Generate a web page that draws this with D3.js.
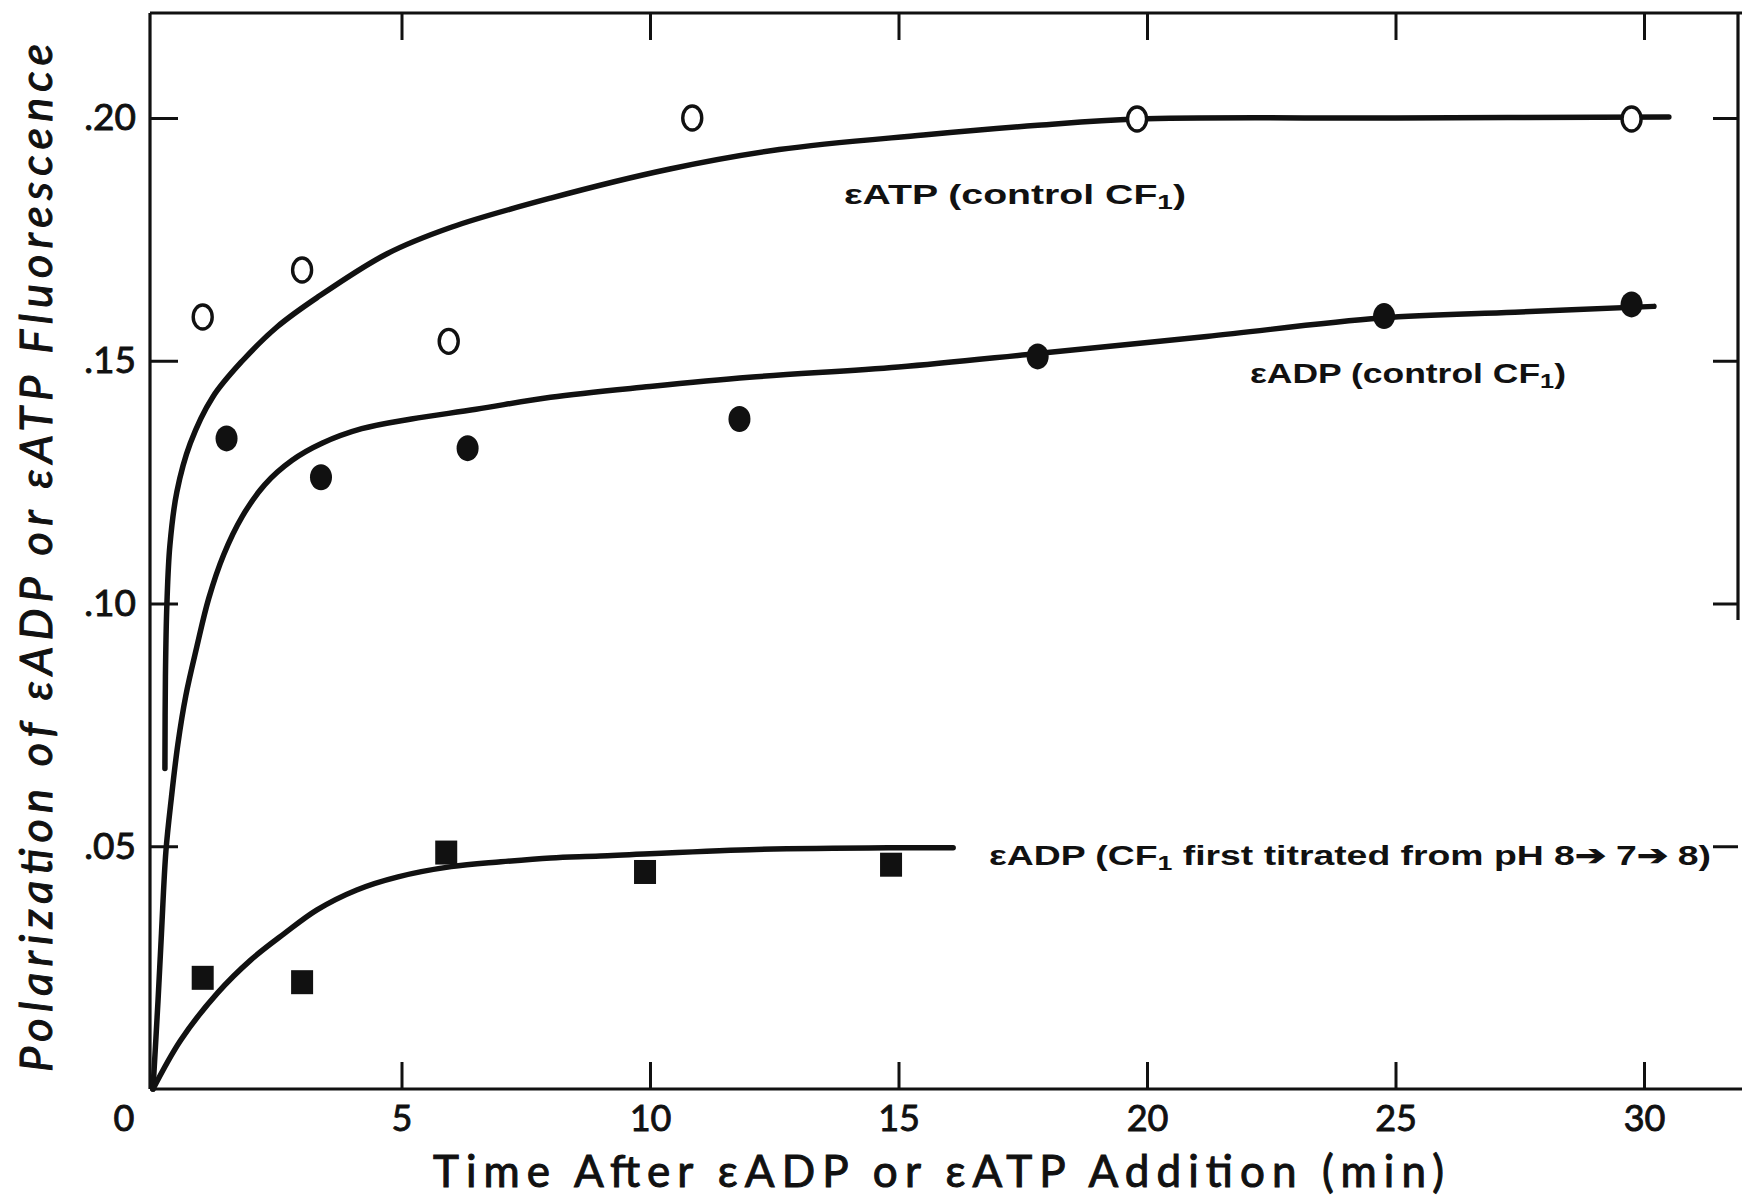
<!DOCTYPE html>
<html>
<head>
<meta charset="utf-8">
<script src="https://cdn.jsdelivr.net/npm/d3@7"></script>
<style>
  html, body { margin: 0; padding: 0; background: #fff; }
  svg { display: block; }
</style>
</head>
<body>
<svg id="chart" width="1742" height="1199"></svg>
<script>
// ---------- data ----------
const xTicks = [0, 5, 10, 15, 20, 25, 30];
const xTickLabels = ["0", "5", "10", "15", "20", "25", "30"];
const yTicks = [0.05, 0.10, 0.15, 0.20];
const yTickLabels = [".05", ".10", ".15", ".20"];

// eATP (control CF1) — open circles
const atpTime = [1.0, 3.0, 5.95, 10.85, 19.8, 29.75];
const atpPol  = [0.159, 0.1687, 0.154, 0.200, 0.1998, 0.1998];
// eADP (control CF1) — filled circles
const adpTime = [1.48, 3.38, 6.33, 11.8, 17.8, 24.77, 29.75];
const adpPol  = [0.134, 0.126, 0.132, 0.138, 0.1509, 0.1592, 0.1616];
// eADP (CF1 first titrated pH 8->7->8) — filled squares
const titTime = [1.0, 3.0, 5.9, 9.9, 14.85];
const titPol  = [0.0229, 0.022, 0.0487, 0.0447, 0.0462];

// hand-drawn fitted curves, sampled along the drawn lines
const atpCurveT = [0.24, 0.25, 0.28, 0.34, 0.48, 0.75, 1.2, 1.8, 2.5, 3.3, 4.7, 6.0, 8.0, 10.4, 12.6, 15.5, 17.8, 19.8, 25.0, 30.5];
const atpCurveP = [0.066, 0.085, 0.100, 0.112, 0.123, 0.133, 0.1425, 0.150, 0.157, 0.163, 0.172, 0.1775, 0.1835, 0.1895, 0.1935, 0.1965, 0.1985, 0.1998, 0.2000, 0.2002];
const adpCurveT = [0, 0.1, 0.17, 0.26, 0.37, 0.5, 0.66, 0.88, 1.12, 1.42, 1.8, 2.25, 2.8, 3.4, 4.2, 5.2, 6.5, 8.0, 10.0, 12.0, 15.0, 17.8, 21.2, 24.7, 27.4, 30.2];
const adpCurveP = [0, 0.018, 0.032, 0.049, 0.060, 0.071, 0.081, 0.091, 0.101, 0.110, 0.118, 0.1245, 0.1295, 0.133, 0.136, 0.138, 0.140, 0.1425, 0.1447, 0.1466, 0.1487, 0.1515, 0.155, 0.1588, 0.160, 0.1612];
const titCurveT = [0, 0.56, 1.3, 1.97, 2.64, 3.3, 4.1, 4.93, 6.0, 7.0, 8.0, 9.0, 12.0, 14.9, 16.1];
const titCurveP = [0, 0.0101, 0.0198, 0.0266, 0.032, 0.0369, 0.041, 0.0437, 0.0458, 0.0468, 0.0476, 0.0480, 0.0493, 0.0497, 0.0497];

const labelATP = "\u03B5ATP  (control  CF";
const labelADP = "\u03B5ADP  (control  CF";
const labelTit1 = "\u03B5ADP  (CF";
const labelTit2 = "  first titrated from pH 8\u2794 7\u2794 8)";
const xTitle = "Time  After  \u03B5ADP   or  \u03B5ATP  Addition  (min)";
const yTitle = "Polarization  of  \u03B5ADP  or  \u03B5ATP  Fluorescence";

// ---------- layout ----------
const svg = d3.select("#chart");
svg.append("rect").attr("width", 1742).attr("height", 1199).attr("fill", "#fff");

const x = d3.scaleLinear().domain([0, 30]).range([153, 1644]);
const y = d3.scaleLinear().domain([0, 0.2]).range([1089, 118]);

const frameTop = 13, frameRight = 1738;
const ink = "#111";

// frame lines
const frame = svg.append("g").attr("stroke", ink).attr("stroke-width", 3.2).attr("fill", "none");
frame.append("line").attr("x1", x(0) - 3).attr("x2", 1742).attr("y1", frameTop).attr("y2", frameTop);
frame.append("line").attr("x1", x(0) - 3).attr("x2", x(0) - 3).attr("y1", frameTop).attr("y2", y(0));
frame.append("line").attr("x1", x(0) - 3).attr("x2", 1742).attr("y1", y(0)).attr("y2", y(0));
frame.append("line").attr("x1", frameRight).attr("x2", frameRight).attr("y1", frameTop).attr("y2", 620);

const axisFont = "Lato, 'DejaVu Sans', sans-serif";

// bottom axis (ticks point inward)
const gx = svg.append("g").attr("transform", `translate(0,${y(0)})`)
  .call(d3.axisBottom(x).tickValues(xTicks.slice(1)).tickSizeInner(-27).tickSizeOuter(0)
        .tickPadding(16).tickFormat((d) => xTickLabels[xTicks.indexOf(d)]));
gx.select(".domain").remove();
gx.selectAll(".tick line").attr("stroke", ink).attr("stroke-width", 3);
gx.selectAll(".tick text").attr("fill", ink).attr("font-family", axisFont).attr("font-size", 36)
  .attr("stroke", ink).attr("stroke-width", 0.9);
// the "0" label sits left of the origin
svg.append("text").attr("x", x(0) - 29).attr("y", y(0) + 42)
  .attr("text-anchor", "middle").attr("font-family", axisFont).attr("font-size", 36).attr("fill", ink)
  .attr("stroke", ink).attr("stroke-width", 0.9)
  .text(xTickLabels[0]);

// top axis
const gt = svg.append("g").attr("transform", `translate(0,${frameTop})`)
  .call(d3.axisTop(x).tickValues(xTicks.slice(1)).tickSizeInner(-27).tickSizeOuter(0).tickFormat(""));
gt.select(".domain").remove();
gt.selectAll(".tick line").attr("stroke", ink).attr("stroke-width", 3);

// left axis
const gy = svg.append("g").attr("transform", `translate(${x(0) - 3},0)`)
  .call(d3.axisLeft(y).tickValues(yTicks).tickSizeInner(-28).tickSizeOuter(0)
        .tickPadding(14).tickFormat((d) => yTickLabels[yTicks.indexOf(d)]));
gy.select(".domain").remove();
gy.selectAll(".tick line").attr("stroke", ink).attr("stroke-width", 3);
gy.selectAll(".tick text").attr("fill", ink).attr("font-family", axisFont).attr("font-size", 37)
  .attr("stroke", ink).attr("stroke-width", 0.9);

// right axis
const gr = svg.append("g").attr("transform", `translate(${frameRight},0)`)
  .call(d3.axisRight(y).tickValues(yTicks).tickSizeInner(-25).tickSizeOuter(0).tickFormat(""));
gr.select(".domain").remove();
gr.selectAll(".tick line").attr("stroke", ink).attr("stroke-width", 3);

// ---------- curves ----------
const line = d3.line().x((d) => x(d[0])).y((d) => y(d[1])).curve(d3.curveCatmullRom.alpha(0.5));
const curves = [
  d3.zip(atpCurveT, atpCurveP),
  d3.zip(adpCurveT, adpCurveP),
  d3.zip(titCurveT, titCurveP)
];
svg.append("g").selectAll("path").data(curves).join("path")
  .attr("d", line).attr("fill", "none").attr("stroke", ink)
  .attr("stroke-width", 5.5).attr("stroke-linecap", "round").attr("stroke-linejoin", "round");

// ---------- markers ----------
svg.append("g").selectAll("ellipse").data(d3.zip(atpTime, atpPol)).join("ellipse")
  .attr("cx", (d) => x(d[0])).attr("cy", (d) => y(d[1]))
  .attr("rx", 9.5).attr("ry", 12).attr("fill", "#fff").attr("stroke", ink).attr("stroke-width", 3.4);

svg.append("g").selectAll("ellipse").data(d3.zip(adpTime, adpPol)).join("ellipse")
  .attr("cx", (d) => x(d[0])).attr("cy", (d) => y(d[1]))
  .attr("rx", 11).attr("ry", 13).attr("fill", ink);

svg.append("g").selectAll("rect").data(d3.zip(titTime, titPol)).join("rect")
  .attr("x", (d) => x(d[0]) - 11).attr("y", (d) => y(d[1]) - 12)
  .attr("width", 22).attr("height", 24).attr("fill", ink);

// ---------- series labels ----------
const labFont = "'Liberation Sans Narrow', 'Liberation Sans', Arial, sans-serif";
function seriesLabel(x0, base, len, pre, post) {
  const t = svg.append("text").attr("x", x0).attr("y", base)
    .attr("font-family", labFont).attr("font-weight", "bold").attr("font-size", 28).attr("fill", ink)
    .attr("textLength", len).attr("lengthAdjust", "spacingAndGlyphs");
  t.append("tspan").text(pre);
  t.append("tspan").attr("font-size", 20).attr("dy", 5).text("1");
  t.append("tspan").attr("dy", -5).text(post);
}
seriesLabel(844, 204, 342, labelATP, ")");
seriesLabel(1250, 383, 316, labelADP, ")");
seriesLabel(989, 865, 722, labelTit1, labelTit2);

// ---------- axis titles ----------
svg.append("text").attr("x", 433).attr("y", 1187)
  .attr("font-family", axisFont).attr("font-size", 44).attr("fill", ink)
  .attr("stroke", ink).attr("stroke-width", 1)
  .attr("textLength", 1011).attr("lengthAdjust", "spacing")
  .text(xTitle);

svg.append("text").attr("transform", "translate(52,1072) rotate(-90)")
  .attr("font-family", axisFont).attr("font-style", "italic").attr("font-size", 45).attr("fill", ink)
  .attr("stroke", ink).attr("stroke-width", 1)
  .attr("textLength", 1028).attr("lengthAdjust", "spacing")
  .text(yTitle);
</script>
</body>
</html>
